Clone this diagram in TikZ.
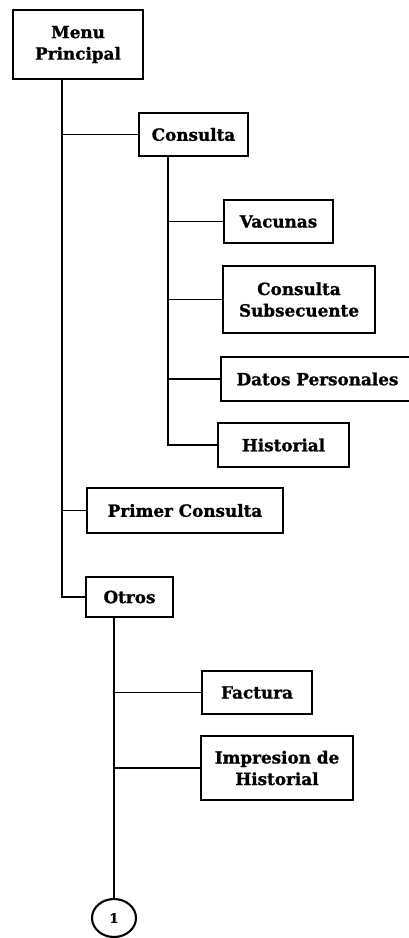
\documentclass[tikz,border=0pt]{standalone}
\usepackage{fontspec}
\setmainfont{DejaVu Serif}[BoldFeatures={FakeBold=1.2}]
\usetikzlibrary{shapes.geometric}
\begin{document}
\begin{tikzpicture}[x=1pt,y=-1pt,
  box/.style={draw,line width=2.1pt,inner sep=0pt,align=center,
    font=\fontsize{16.8}{21.5}\selectfont\bfseries},
  trunk/.style={line width=2.3pt},
  branch/.style={line width=1.8pt}]
\useasboundingbox (0,0) rectangle (408,938);
\node[box,minimum width=130pt,minimum height=69pt] (menu) at (78,44.5) {Menu\\Principal};
\node[box,minimum width=109pt,minimum height=43pt] (consulta) at (193.5,134.5) {Consulta};
\node[box,minimum width=109pt,minimum height=43pt] (vacunas) at (278.5,221.5) {Vacunas};
\node[box,minimum width=152pt,minimum height=67pt] (subsec) at (299,299.5) {Consulta\\Subsecuente};
\node[box,minimum width=193pt,minimum height=44pt] (datos) at (317.5,379) {Datos Personales};
\node[box,minimum width=131pt,minimum height=44pt] (historial) at (283.5,445) {Historial};
\node[box,minimum width=196pt,minimum height=45pt] (primer) at (185,510.5) {Primer Consulta};
\node[box,minimum width=87pt,minimum height=40pt] (otros) at (129.5,597) {Otros};
\node[box,minimum width=110pt,minimum height=43pt] (factura) at (257,692.5) {Factura};
\node[box,minimum width=152pt,minimum height=64pt] (impresion) at (277,768) {Impresion de\\Historial};
\node[draw,line width=2.1pt,ellipse,minimum width=44pt,minimum height=38pt,inner sep=0pt,
  font=\fontsize{13}{13}\selectfont\bfseries] (uno) at (114,918) {1};
\coordinate (ta) at (62,0);
\coordinate (tb) at (168,0);
\coordinate (tc) at (114,0);
% main trunk
\draw[trunk] (menu.south -| ta) |- (otros.west);
\draw[branch] (consulta.west -| ta) -- (consulta.west);
\draw[branch] (primer.west -| ta) -- (primer.west);
% consulta trunk
\draw[trunk] (consulta.south -| tb) |- (historial.west);
\draw[branch] (vacunas.west -| tb) -- (vacunas.west);
\draw[branch] (subsec.west -| tb) -- (subsec.west);
\draw[branch] (datos.west -| tb) -- (datos.west);
% otros trunk
\draw[trunk] (otros.south -| tc) -- (uno.north);
\draw[branch] (factura.west -| tc) -- (factura.west);
\draw[branch] (impresion.west -| tc) -- (impresion.west);
\end{tikzpicture}
\end{document}
